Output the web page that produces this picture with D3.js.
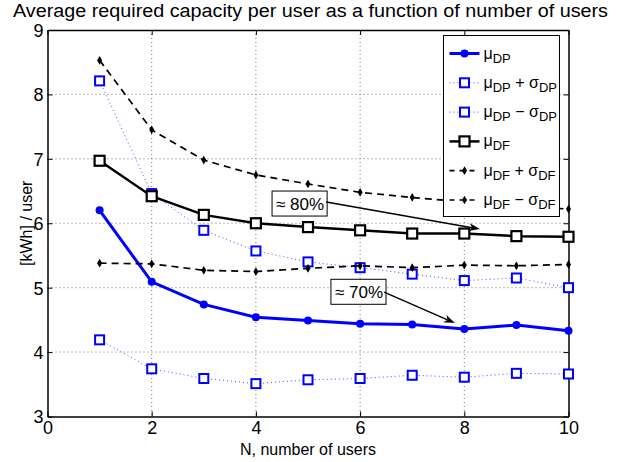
<!DOCTYPE html>
<html>
<head>
<meta charset="utf-8">
<script src="https://cdn.jsdelivr.net/npm/d3@7"></script>
<style>
  body { margin: 0; background: #fff; }
  svg text { font-family: "Liberation Sans", Arial, sans-serif; }
</style>
</head>
<body>
<div id="chart"></div>
<script>
// number of users
var users = [1, 2, 3, 4, 5, 6, 7, 8, 9, 10];

// average required capacity per user [kWh]
var muDP      = [6.20, 5.09, 4.74, 4.54, 4.49, 4.44, 4.43, 4.36, 4.42, 4.33];
var muDPplus  = [8.21, 6.46, 5.89, 5.57, 5.40, 5.31, 5.21, 5.11, 5.15, 5.00];
var muDPminus = [4.19, 3.74, 3.59, 3.51, 3.57, 3.59, 3.64, 3.61, 3.67, 3.66];
var muDF      = [6.97, 6.42, 6.13, 6.00, 5.94, 5.89, 5.84, 5.84, 5.80, 5.79];
var muDFplus  = [8.53, 7.45, 6.98, 6.75, 6.61, 6.48, 6.40, 6.33, 6.27, 6.22];
var muDFminus = [5.38, 5.37, 5.27, 5.25, 5.30, 5.34, 5.31, 5.35, 5.34, 5.36];

var xTicks = [0, 2, 4, 6, 8, 10];
var yTicks = [3, 4, 5, 6, 7, 8, 9];

var svgWidth = 619;
var svgHeight = 462;

var margin = { top: 30, right: 50.5, bottom: 45.5, left: 47.5 };
var width = svgWidth - margin.left - margin.right;
var height = svgHeight - margin.top - margin.bottom;

var svg = d3.select('#chart')
  .append('svg')
  .attr('width', svgWidth)
  .attr('height', svgHeight);

var g = svg.append('g')
  .attr('transform', `translate(${margin.left}, ${margin.top})`);

var x = d3.scaleLinear().domain([0, 10]).range([0, width]);
var y = d3.scaleLinear().domain([3, 9]).range([height, 0]);

// title
svg.append('text')
  .attr('x', 13)
  .attr('y', 17)
  .attr('textLength', 595)
  .attr('lengthAdjust', 'spacingAndGlyphs')
  .style('font-size', '18px')
  .text('Average required capacity per user as a function of number of users');

// grid
g.append('g').selectAll('line')
  .data(xTicks.slice(1, -1))
  .enter().append('line')
  .attr('x1', d => x(d)).attr('x2', d => x(d))
  .attr('y1', 0).attr('y2', height)
  .attr('stroke', '#777').attr('stroke-width', 1)
  .attr('stroke-dasharray', '1,3');

g.append('g').selectAll('line')
  .data(yTicks.slice(1, -1))
  .enter().append('line')
  .attr('y1', d => y(d)).attr('y2', d => y(d))
  .attr('x1', 0).attr('x2', width)
  .attr('stroke', '#777').attr('stroke-width', 1)
  .attr('stroke-dasharray', '1,3');

// axes (ticks pointing inwards, like matlab)
var xAxis = g.append('g')
  .attr('transform', `translate(0, ${height})`)
  .call(d3.axisBottom(x).tickValues(xTicks).tickSizeInner(-5).tickSizeOuter(0).tickPadding(5).tickFormat(d3.format('d')));
var xTop = g.append('g')
  .call(d3.axisTop(x).tickValues(xTicks).tickSizeInner(-5).tickSizeOuter(0).tickFormat(''));
var yAxis = g.append('g')
  .call(d3.axisLeft(y).tickValues(yTicks).tickSizeInner(-5).tickSizeOuter(0).tickPadding(4).tickFormat(d3.format('d')));
var yRight = g.append('g')
  .attr('transform', `translate(${width}, 0)`)
  .call(d3.axisRight(y).tickValues(yTicks).tickSizeInner(-5).tickSizeOuter(0).tickFormat(''));

[xAxis, xTop, yAxis, yRight].forEach(function(a) {
  a.select('.domain').attr('stroke', '#000').attr('stroke-width', 1.5);
  a.selectAll('.tick line').attr('stroke', '#000');
  a.selectAll('.tick text').style('font-size', '18px').attr('fill', '#000');
});
yAxis.selectAll('.tick text').attr('dy', '0.36em');

// axis labels
svg.append('text')
  .attr('x', margin.left + width / 2)
  .attr('y', 455)
  .attr('text-anchor', 'middle')
  .style('font-size', '16px')
  .text('N, number of users');

svg.append('text')
  .attr('transform', `translate(32, ${margin.top + height / 2}) rotate(-90)`)
  .attr('text-anchor', 'middle')
  .style('font-size', '16px')
  .text('[kWh] / user');

// series
var series = [
  { vals: muDP, color: '#0000ff', width: 3, dash: null, marker: 'dot', sub: 'DP', suffix: '' },
  { vals: muDPplus, color: '#0000ff', width: 1, dash: '1,3', marker: 'square', sub: 'DP', suffix: '+' },
  { vals: muDPminus, color: '#0000ff', width: 1, dash: '1,3', marker: 'square', sub: 'DP', suffix: '\u2212' },
  { vals: muDF, color: '#000', width: 2.5, dash: null, marker: 'bigsquare', sub: 'DF', suffix: '' },
  { vals: muDFplus, color: '#000', width: 1.7, dash: '7,5', marker: 'small', sub: 'DF', suffix: '+' },
  { vals: muDFminus, color: '#000', width: 1.7, dash: '7,5', marker: 'small', sub: 'DF', suffix: '\u2212' }
];

var line = d3.line()
  .x((d, i) => x(users[i]))
  .y(d => y(d));

function drawMarker(sel, s, cx, cy) {
  if (s.marker === 'dot') {
    sel.append('circle').attr('cx', cx).attr('cy', cy).attr('r', 4)
      .attr('fill', s.color);
  } else if (s.marker === 'square') {
    sel.append('rect').attr('x', cx - 4.5).attr('y', cy - 4.5)
      .attr('width', 9).attr('height', 9)
      .attr('fill', '#fff').attr('stroke', s.color).attr('stroke-width', 2);
  } else if (s.marker === 'bigsquare') {
    sel.append('rect').attr('x', cx - 5).attr('y', cy - 5)
      .attr('width', 10).attr('height', 10)
      .attr('fill', '#fff').attr('stroke', s.color).attr('stroke-width', 2.2);
  } else {
    sel.append('path')
      .attr('transform', `translate(${cx}, ${cy})`)
      .attr('d', d3.symbol().type(d3.symbolDiamond).size(22)())
      .attr('fill', s.color);
  }
}

series.forEach(function(s) {
  g.append('path')
    .datum(s.vals)
    .attr('d', line)
    .attr('fill', 'none')
    .attr('stroke', s.color)
    .attr('stroke-width', s.width)
    .attr('stroke-dasharray', s.dash)
    .attr('stroke-opacity', s.dash === '1,3' ? 0.7 : 1);
  var mg = g.append('g');
  s.vals.forEach(function(v, i) {
    drawMarker(mg, s, x(users[i]), y(v));
  });
});

// annotations
function annotate(label, bx, by, ax0, ay0, ax1, ay1) {
  var a = g.append('g');
  var px = x(bx), py = y(by);
  var t = a.append('text')
    .attr('x', px + 4).attr('y', py + 19)
    .style('font-size', '17px')
    .text(label);
  var bb = t.node().getBBox();
  a.insert('rect', 'text')
    .attr('x', px).attr('y', py)
    .attr('width', bb.width + 7).attr('height', 25)
    .attr('fill', '#fff').attr('stroke', '#000').attr('stroke-width', 1);
  var x0 = x(ax0), y0 = y(ay0), x1 = x(ax1), y1 = y(ay1);
  var ang = Math.atan2(y1 - y0, x1 - x0);
  a.append('line')
    .attr('x1', x0).attr('y1', y0)
    .attr('x2', x1 - 8 * Math.cos(ang)).attr('y2', y1 - 8 * Math.sin(ang))
    .attr('stroke', '#000').attr('stroke-width', 1.5);
  a.append('path')
    .attr('d', `M0,0 L-11,-4 L-8,0 L-11,4 Z`)
    .attr('transform', `translate(${x1}, ${y1}) rotate(${ang * 180 / Math.PI})`)
    .attr('fill', '#000');
}

annotate('\u2248 80%', 4.31, 6.50, 5.35, 6.33, 8.30, 5.91);
annotate('\u2248 70%', 5.44, 5.13, 6.46, 4.93, 7.82, 4.45);

// legend
var legend = svg.append('g').attr('transform', 'translate(443.5, 35.5)');
legend.append('rect')
  .attr('width', 116).attr('height', 181)
  .attr('fill', '#fff').attr('stroke', '#000').attr('stroke-width', 1);

series.forEach(function(s, i) {
  var ly = 18 + i * 29.3;
  var row = legend.append('g');
  row.append('line')
    .attr('x1', 6).attr('x2', 36).attr('y1', ly).attr('y2', ly)
    .attr('stroke', s.color).attr('stroke-width', s.width)
    .attr('stroke-dasharray', s.dash === '7,5' ? '5,5' : s.dash)
    .attr('stroke-opacity', s.dash === '1,3' ? 0.7 : 1);
  drawMarker(row, s, 21, ly);
  var t = row.append('text')
    .attr('x', 40).attr('y', ly + 5)
    .style('font-size', '16px');
  t.append('tspan').text('\u03bc');
  t.append('tspan').attr('dy', 4).style('font-size', '13px').text(s.sub);
  if (s.suffix) {
    t.append('tspan').attr('dy', -4).text(' ' + s.suffix + ' \u03c3');
    t.append('tspan').attr('dy', 4).style('font-size', '13px').text(s.sub);
  }
});
</script>
</body>
</html>
